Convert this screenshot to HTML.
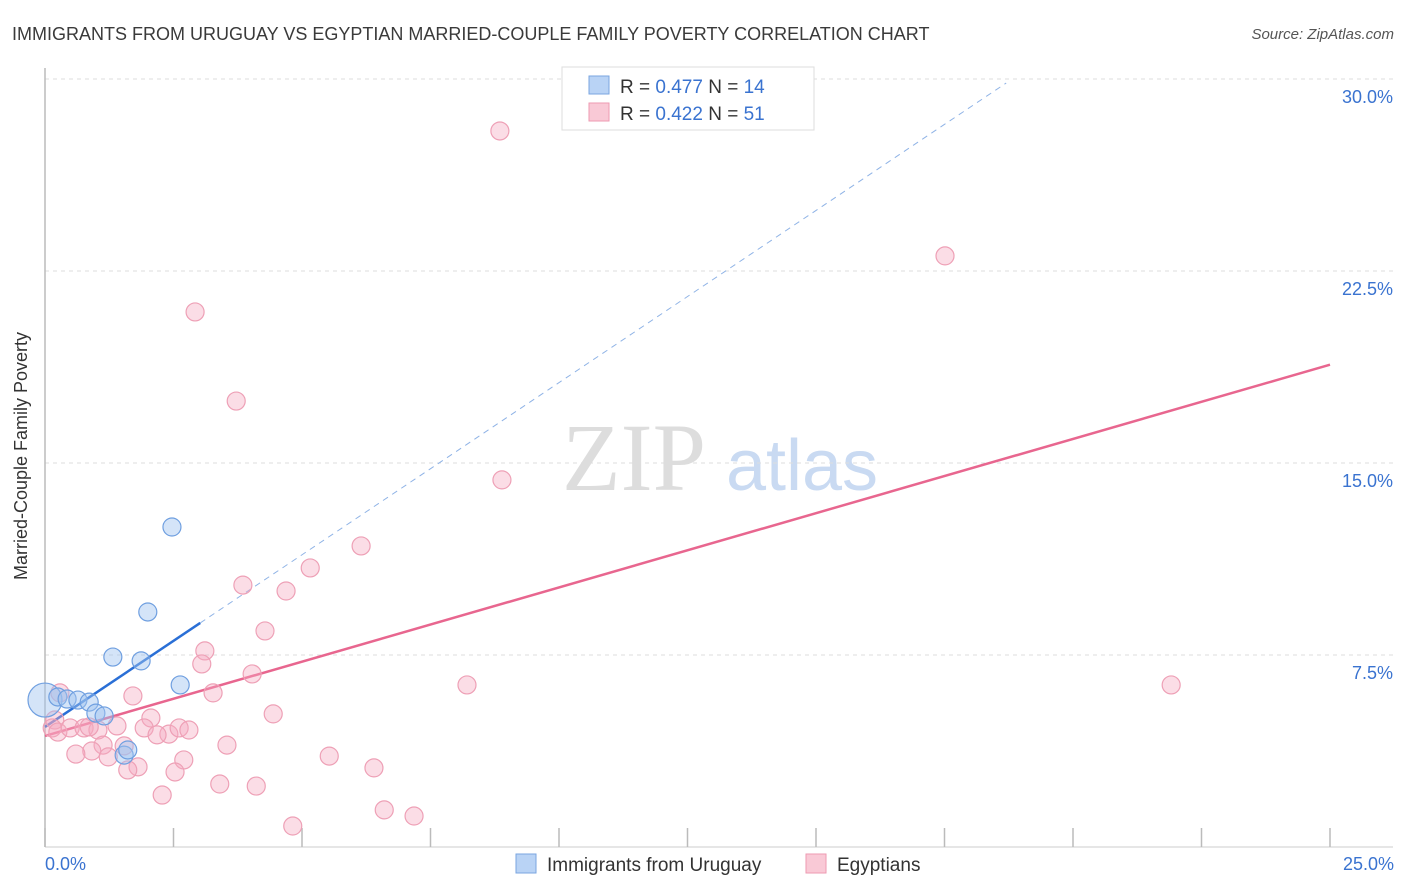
<!DOCTYPE html>
<html><head><meta charset="utf-8"><style>
body{margin:0;background:#fff;font-family:"Liberation Sans",sans-serif}
svg{display:block}
</style></head><body>
<svg width="1406" height="892" id="chart" font-family="Liberation Sans, sans-serif">
<text x="12" y="40" font-size="18" fill="#3a3a3a">IMMIGRANTS FROM URUGUAY VS EGYPTIAN MARRIED-COUPLE FAMILY POVERTY CORRELATION CHART</text>
<text x="1394" y="39" font-size="15" fill="#555" font-style="italic" text-anchor="end">Source: ZipAtlas.com</text>
<text x="634" y="490" font-size="96" fill="#ddd" font-family="Liberation Serif, serif" text-anchor="middle">ZIP</text>
<text x="802" y="490" font-size="72" fill="#c9daf2" text-anchor="middle">atlas</text>
<g id="grid"></g>
<line x1="45" y1="68" x2="45" y2="847" stroke="#bbb" stroke-width="1.5"/>
<line x1="45" y1="847" x2="1393" y2="847" stroke="#ccc"/>
<g id="xticks"></g>
<text x="27" y="456" font-size="18" fill="#333" text-anchor="middle" transform="rotate(-90 27 456)">Married-Couple Family Poverty</text>
<text x="45" y="870" font-size="18" fill="#3a73d0">0.0%</text>
<text x="1394" y="870" font-size="18" fill="#3a73d0" text-anchor="end">25.0%</text>
<g id="lines"></g>
<g id="pts"></g>
<g>
<rect x="562" y="67" width="252" height="63" fill="#fff" stroke="#ddd"/>
<rect x="589" y="76" width="20" height="18" fill="#b9d3f5" stroke="#7aa6e0"/>
<text x="620" y="93" font-size="19" fill="#333">R = <tspan fill="#3a73d0">0.477</tspan>    N = <tspan fill="#3a73d0">14</tspan></text>
<rect x="589" y="103" width="20" height="18" fill="#f9c9d6" stroke="#ee9ab2"/>
<text x="620" y="120" font-size="19" fill="#333">R = <tspan fill="#3a73d0">0.422</tspan>    N = <tspan fill="#3a73d0">51</tspan></text>
</g>
<g>
<rect x="516" y="854" width="20" height="19" fill="#b9d3f5" stroke="#7aa6e0"/>
<text x="547" y="871" font-size="19" fill="#333">Immigrants from Uruguay</text>
<rect x="806" y="854" width="20" height="19" fill="#f9c9d6" stroke="#ee9ab2"/>
<text x="837" y="871" font-size="19" fill="#333">Egyptians</text>
</g>
</svg>
<script>
const yTicks=[7.5,15,22.5,30];
const xTickVals=[0,2.5,5,7.5,10,12.5,15,17.5,20,22.5,25];
const blueX=[0,0.25,0.43,0.64,0.86,0.99,1.15,1.32,1.87,2.0,2.47,2.63,1.54,1.61];
const blueY=[5.74,5.86,5.78,5.74,5.66,5.23,5.12,7.42,7.27,9.18,12.5,6.33,3.59,3.79];
const pinkX=[8.85,17.51,2.92,3.72,8.89,6.15,5.16,3.85,4.69,4.28,3.11,3.05,4.03,8.21,21.91,1.71,3.27,0.29,0.19,0.14,0.25,0.49,0.76,1.03,0.86,1.40,2.06,1.93,2.41,2.18,2.61,2.80,4.44,3.54,1.13,1.54,0.91,0.60,1.23,2.70,5.53,1.81,1.61,2.53,6.40,3.40,4.11,2.28,6.60,7.18,4.82];
const pinkY=[27.97,23.09,20.90,17.42,14.34,11.76,10.90,10.23,10.0,8.44,7.66,7.15,6.76,6.33,6.33,5.90,6.02,6.02,4.96,4.65,4.49,4.65,4.65,4.57,4.69,4.73,5.04,4.65,4.41,4.38,4.65,4.57,5.20,3.98,3.98,3.95,3.75,3.63,3.52,3.40,3.55,3.13,3.01,2.93,3.09,2.46,2.38,2.03,1.45,1.21,0.82];
const blueFit=[4.69,1.345];
const pinkFit=[4.34,0.58];
const X=v=>45+v*51.4, Y=v=>847-v*25.6;
const NS='http://www.w3.org/2000/svg';
function mk(t,a,p){const e=document.createElementNS(NS,t);for(const k in a)e.setAttribute(k,a[k]);document.getElementById(p).appendChild(e);return e;}
yTicks.forEach(v=>{
 const l=mk('line',{x1:45,x2:1393,y1:Y(v),y2:Y(v),stroke:'#ddd','stroke-dasharray':'4,4'},'grid');
 
 
 const t=mk('text',{x:1393,y:Y(v)+24,'font-size':18,fill:'#3a73d0','text-anchor':'end'},'grid');
 t.textContent=v.toFixed(1)+'%';
 
 
});
xTickVals.forEach(v=>{
 const l=mk('line',{x1:X(v),x2:X(v),y1:828,y2:847,stroke:'#bbb','stroke-width':1.5},'xticks');
 
 
});
let l=mk('line',{x1:X(0),y1:Y(blueFit[0]),x2:X(3.02),y2:Y(blueFit[0]+blueFit[1]*3.02),stroke:'#2a6fd6','stroke-width':2.5},'lines');


l=mk('line',{x1:X(3.02),y1:Y(blueFit[0]+blueFit[1]*3.02),x2:X(18.7),y2:Y(blueFit[0]+blueFit[1]*18.7),stroke:'#8fb3e6','stroke-width':1,'stroke-dasharray':'6,5'},'lines');


l=mk('line',{x1:X(0),y1:Y(pinkFit[0]),x2:X(25),y2:Y(pinkFit[0]+pinkFit[1]*25),stroke:'#e8668f','stroke-width':2.5},'lines');


pinkX.forEach((v,i)=>{
 const c=mk('circle',{cx:X(v),cy:Y(pinkY[i]),r:9,fill:'rgba(246,170,192,0.4)',stroke:'#eea0b6','stroke-width':1.2},'pts');
 
 
});
blueX.forEach((v,i)=>{
 const c=mk('circle',{cx:X(v),cy:Y(blueY[i]),r:i===0?17:9,fill:'rgba(160,196,240,0.45)',stroke:'#6f9fe0','stroke-width':1.2},'pts');
 
 
});
</script>
</body></html>
